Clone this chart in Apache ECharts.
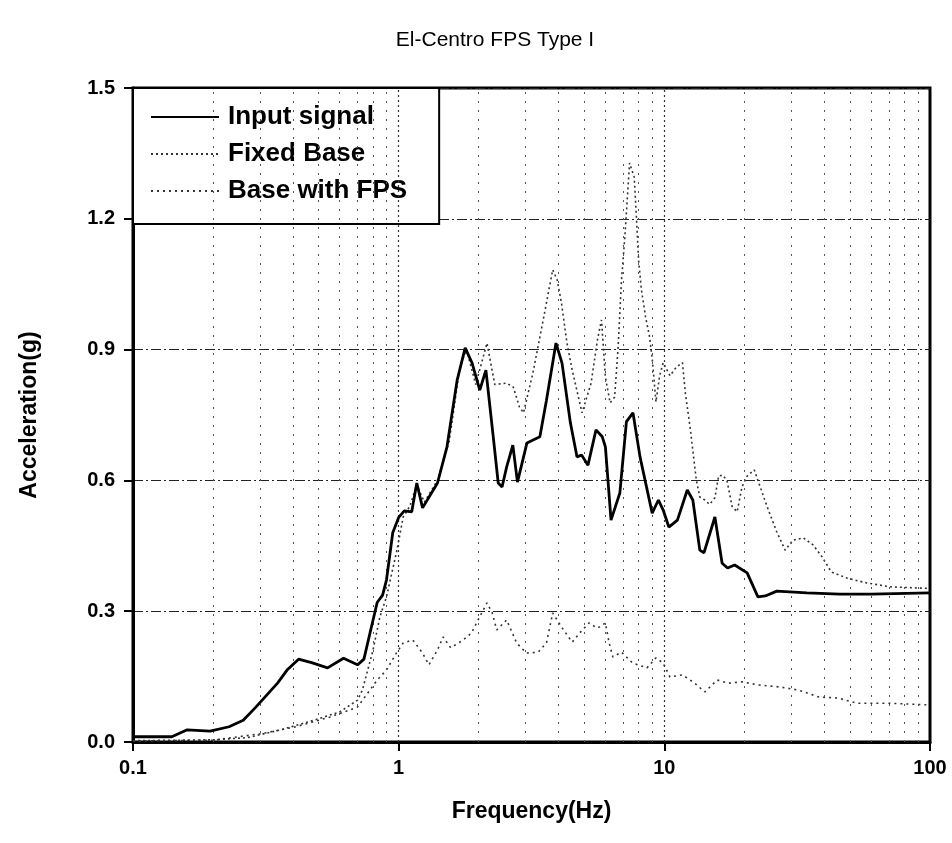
<!DOCTYPE html>
<html>
<head>
<meta charset="utf-8">
<script src="https://cdn.jsdelivr.net/npm/echarts@6/dist/echarts.min.js"></script>
<style>
  html, body { margin: 0; padding: 0; background: #fff; }
  #chart { width: 952px; height: 843px; }
</style>
</head>
<body>
<div id="chart"></div>
<script>
// Input signal (solid)
const inputFreq = [0.1, 0.14, 0.16, 0.195, 0.23, 0.26, 0.29, 0.35, 0.38, 0.42, 0.47, 0.54, 0.62, 0.7, 0.74, 0.78, 0.83, 0.87, 0.9, 0.95,
  1.0, 1.05, 1.12, 1.17, 1.23, 1.35, 1.4, 1.52, 1.66, 1.78, 1.89, 2.02, 2.13, 2.27, 2.37, 2.45, 2.55, 2.69, 2.8, 3.04,
  3.4, 3.6, 3.91, 4.12, 4.43, 4.69, 4.88, 5.16, 5.53, 5.84, 6.0, 6.3, 6.8, 7.2, 7.62, 8.1, 9.0, 9.5, 9.9, 10.4,
  11.2, 12.2, 12.8, 13.6, 14.1, 15.5, 16.5, 17.3, 18.4, 20.5, 22.5, 24, 26.5, 34.4, 45.8, 60, 100]
const inputAcc = [0.012, 0.012, 0.028, 0.025, 0.035, 0.05, 0.08, 0.135, 0.165, 0.19, 0.182, 0.17, 0.192, 0.177, 0.19, 0.25, 0.32, 0.337, 0.372, 0.48,
  0.515, 0.53, 0.528, 0.594, 0.537, 0.578, 0.594, 0.677, 0.83, 0.904, 0.869, 0.807, 0.853, 0.7, 0.594, 0.585, 0.631, 0.681, 0.596, 0.686,
  0.7, 0.784, 0.915, 0.869, 0.732, 0.654, 0.658, 0.635, 0.716, 0.7, 0.677, 0.509, 0.571, 0.735, 0.755, 0.654, 0.525, 0.555, 0.532, 0.493,
  0.509, 0.578, 0.555, 0.44, 0.434, 0.516, 0.41, 0.399, 0.406, 0.388, 0.333, 0.335, 0.346, 0.342, 0.339, 0.339, 0.342]

// Fixed Base (dotted)
const fixedFreq = [0.1, 0.2, 0.27, 0.36, 0.48, 0.6, 0.7, 0.73, 0.8, 0.85, 0.9, 0.985, 1.04, 1.1, 1.17, 1.25, 1.4, 1.55, 1.7, 1.8,
  1.95, 2.15, 2.3, 2.55, 2.7, 2.85, 2.95, 3.2, 3.5, 3.8, 3.95, 4.1, 4.3, 4.5, 4.9, 5.3, 5.6, 5.8, 6.0, 6.25,
  6.5, 6.7, 6.9, 7.1, 7.4, 7.7, 7.85, 8.0, 8.2, 8.5, 8.8, 9.0, 9.3, 9.6, 9.9, 10.5, 11.1, 11.7, 12.0, 12.5,
  13.2, 13.6, 14.2, 14.8, 15.5, 16.0, 16.6, 17.2, 18.0, 18.8, 19.6, 20.5, 21.8, 22.5, 24.4, 26.5, 28.5, 30.5, 33.4, 36.3,
  39.3, 42.5, 48.6, 57.6, 70.8, 100]
const fixedAcc = [0.003, 0.005, 0.01, 0.028, 0.05, 0.069, 0.096, 0.119, 0.21, 0.287, 0.333, 0.44, 0.516, 0.54, 0.59, 0.55, 0.6, 0.69, 0.86, 0.9,
  0.82, 0.915, 0.82, 0.823, 0.814, 0.768, 0.755, 0.846, 0.968, 1.083, 1.06, 1.007, 0.915, 0.853, 0.755, 0.823, 0.922, 0.968, 0.837, 0.778,
  0.791, 0.906, 1.06, 1.158, 1.328, 1.296, 1.204, 1.105, 1.037, 0.975, 0.929, 0.88, 0.78, 0.84, 0.87, 0.84, 0.86, 0.87, 0.8, 0.722,
  0.6, 0.562, 0.555, 0.545, 0.56, 0.61, 0.612, 0.6, 0.54, 0.528, 0.585, 0.61, 0.624, 0.6, 0.539, 0.482, 0.44, 0.463, 0.468, 0.452,
  0.424, 0.39, 0.376, 0.365, 0.356, 0.352]

// Base with FPS (dotted)
const fpsFreq = [0.1, 0.2, 0.31, 0.41, 0.55, 0.7, 0.83, 0.9, 0.98, 1.04, 1.13, 1.23, 1.3, 1.4, 1.47, 1.57, 1.75, 1.88, 1.99, 2.15,
  2.25, 2.34, 2.55, 2.78, 3.03, 3.35, 3.6, 3.8, 4.1, 4.5, 4.8, 5.2, 5.6, 6.0, 6.2, 6.4, 6.9, 7.6, 8.6, 9.3,
  9.9, 10.5, 11.7, 13.0, 14.2, 15.8, 17.5, 19.6, 22.5, 27.4, 32, 38.3, 45, 53, 70, 100]
const fpsAcc = [0.002, 0.004, 0.02, 0.035, 0.057, 0.08, 0.142, 0.165, 0.204, 0.227, 0.234, 0.204, 0.177, 0.211, 0.241, 0.216, 0.234, 0.25, 0.28, 0.319,
  0.296, 0.257, 0.28, 0.227, 0.204, 0.206, 0.227, 0.296, 0.264, 0.229, 0.25, 0.273, 0.261, 0.273, 0.227, 0.195, 0.206, 0.181, 0.17, 0.193,
  0.181, 0.149, 0.154, 0.135, 0.115, 0.142, 0.135, 0.138, 0.131, 0.126, 0.119, 0.103, 0.101, 0.089, 0.089, 0.085]

// grid line positions
const minorFreq = [0.2, 0.3, 0.4, 0.5, 0.6, 0.7, 0.8, 0.9, 2, 3, 4, 5, 6, 7, 8, 9, 20, 30, 40, 50, 60, 70, 80, 90]
const decadeFreq = [1, 10]

const zip = (xs, ys) => xs.map((x, i) => [x, ys[i]])
const fontFamily = '"Liberation Sans", Arial, sans-serif'

const chart = echarts.init(document.getElementById('chart'))

const option = {
  backgroundColor: '#fff',
  animation: false,
  title: {
    text: 'El-Centro FPS Type I',
    left: 490,
    top: 25,
    textAlign: 'center',
    textStyle: { fontFamily, fontSize: 21, fontWeight: 'normal', color: '#000' }
  },
  legend: {
    left: 133,
    top: 88,
    orient: 'vertical',
    backgroundColor: '#fff',
    borderColor: '#000',
    borderWidth: 2,
    borderRadius: 0,
    padding: [16, 32, 20, 17],
    itemWidth: 68,
    itemHeight: 14,
    itemGap: 11,
    itemStyle: { opacity: 0 },
    textStyle: { fontFamily, fontSize: 26, fontWeight: 'bold', color: '#000', padding: [0, 0, 0, 4] },
    data: ['Input signal', 'Fixed Base', 'Base with FPS']
  },
  grid: {
    left: 133,
    right: 22,
    top: 88,
    bottom: 101,
    show: true,
    borderColor: '#000',
    borderWidth: 3,
    containLabel: false
  },
  xAxis: {
    type: 'log',
    logBase: 10,
    min: 0.1,
    max: 100,
    name: 'Frequency(Hz)',
    nameLocation: 'middle',
    nameGap: 58,
    nameTextStyle: { fontFamily, fontSize: 23, fontWeight: 'bold', color: '#000' },
    axisLine: { lineStyle: { color: '#000', width: 3 } },
    axisTick: { show: true, length: 9, lineStyle: { color: '#000', width: 2 } },
    axisLabel: {
      margin: 16,
      fontFamily, fontSize: 20, fontWeight: 'bold', color: '#000',
      formatter: v => String(v)
    },
    splitLine: { show: false },
    minorTick: { show: false }
  },
  yAxis: {
    type: 'value',
    min: 0,
    max: 1.5,
    interval: 0.3,
    name: 'Acceleration(g)',
    nameLocation: 'middle',
    nameGap: 92,
    nameRotate: 90,
    nameTextStyle: { fontFamily, fontSize: 23, fontWeight: 'bold', color: '#000' },
    axisLine: { show: true, lineStyle: { color: '#000', width: 3 } },
    axisTick: { show: true, length: 9, lineStyle: { color: '#000', width: 2 } },
    axisLabel: {
      margin: 18,
      fontFamily, fontSize: 20, fontWeight: 'bold', color: '#000',
      formatter: v => v.toFixed(1)
    },
    splitLine: { show: true, lineStyle: { color: '#222', width: 1, type: [10, 3, 2, 3] } }
  },
  series: [
    {
      name: 'Grid',
      type: 'line',
      data: [],
      silent: true,
      z: 1,
      markLine: {
        silent: true,
        symbol: 'none',
        label: { show: false },
        animation: false,
        data: [
          ...minorFreq.map(f => ({ xAxis: f, lineStyle: { color: '#555', width: 1, type: [2, 7] } })),
          ...decadeFreq.map(f => ({ xAxis: f, lineStyle: { color: '#333', width: 1.2, type: [2, 3] } }))
        ]
      }
    },
    {
      name: 'Base with FPS',
      type: 'line',
      data: zip(fpsFreq, fpsAcc),
      showSymbol: false,
      symbol: 'none',
      z: 3,
      lineStyle: { color: '#333', width: 1.6, type: [2, 4] },
      itemStyle: { color: '#333' }
    },
    {
      name: 'Fixed Base',
      type: 'line',
      data: zip(fixedFreq, fixedAcc),
      showSymbol: false,
      symbol: 'none',
      z: 4,
      lineStyle: { color: '#333', width: 1.6, type: [2, 3] },
      itemStyle: { color: '#333' }
    },
    {
      name: 'Input signal',
      type: 'line',
      data: zip(inputFreq, inputAcc),
      showSymbol: false,
      symbol: 'none',
      z: 5,
      lineStyle: { color: '#000', width: 2.8 },
      itemStyle: { color: '#000' }
    }
  ]
}

chart.setOption(option)
</script>
</body>
</html>
